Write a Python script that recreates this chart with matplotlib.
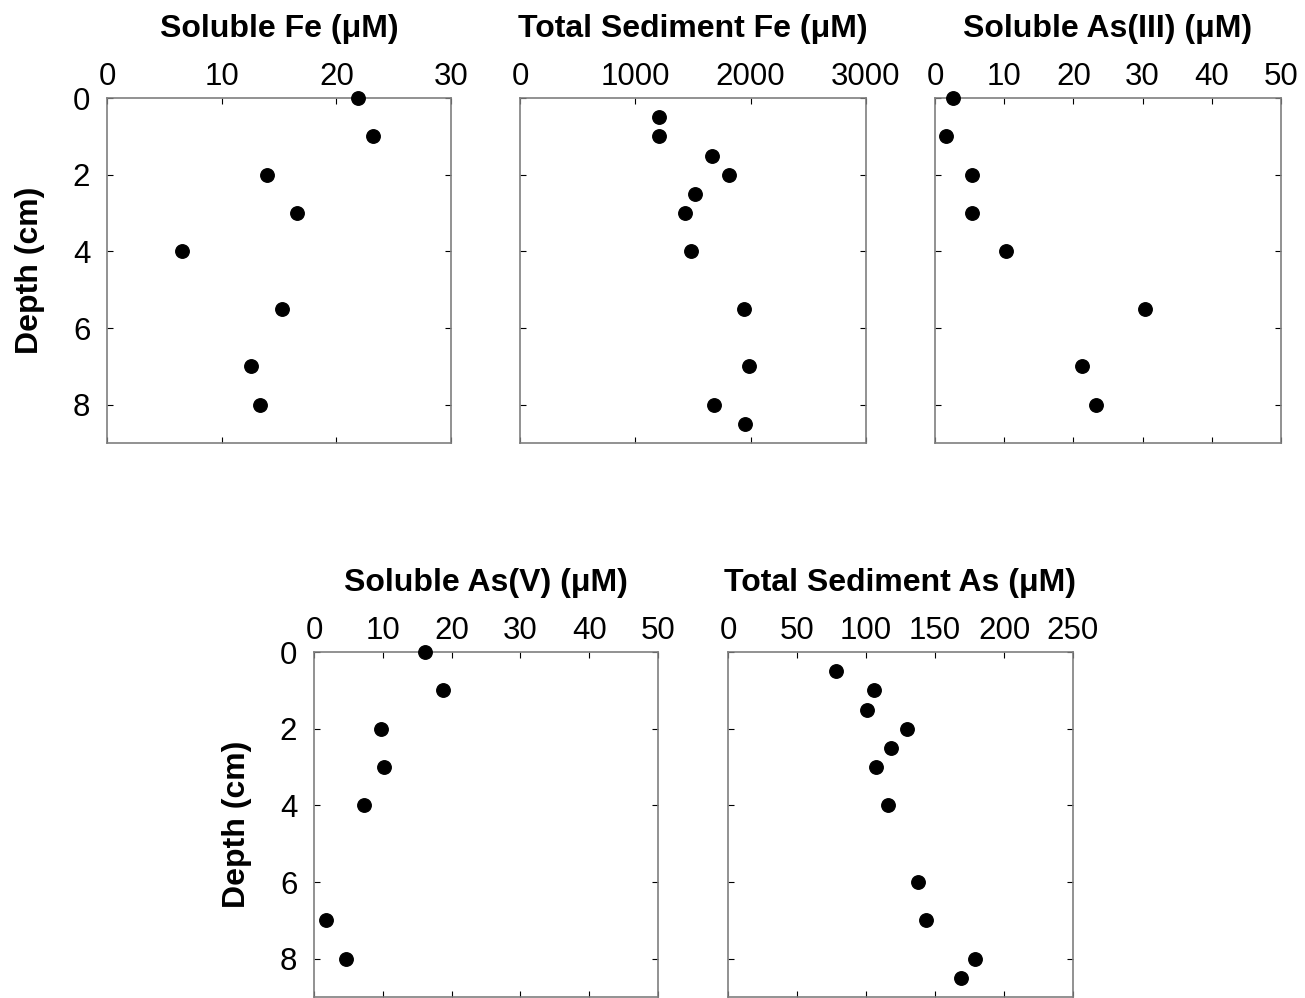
import matplotlib
matplotlib.use("Agg")
import matplotlib.pyplot as plt
import matplotlib.transforms as mtransforms

plt.rcParams['font.family'] = ['Liberation Sans', 'DejaVu Sans']

# ---- data ----
fe_sol_depth = [0, 1, 2, 3, 4, 5.5, 7, 8]
fe_sol = [21.9, 23.2, 13.95, 16.6, 6.5, 15.3, 12.6, 13.3]

fe_sed_depth = [0.5, 1, 1.5, 2, 2.5, 3, 4, 5.5, 7, 8, 8.5]
fe_sed = [1205, 1205, 1665, 1813, 1518, 1431, 1483, 1942, 1986, 1682, 1951]

as3_depth = [0, 1, 2, 3, 4, 5.5, 7, 8]
as3 = [2.6, 1.6, 5.35, 5.35, 10.3, 30.3, 21.2, 23.3]

as5_depth = [0, 1, 2, 3, 4, 7, 8]
as5 = [16.1, 18.75, 9.7, 10.2, 7.3, 1.7, 4.65]

as_sed_depth = [0.5, 1, 1.5, 2, 2.5, 3, 4, 6, 7, 8, 8.5]
as_sed = [78.3, 105.8, 100.7, 129.7, 118, 107.2, 116, 137.7, 143.5, 179, 168.8]

titles = ["Soluble Fe (\u03bcM)", "Total Sediment Fe (\u03bcM)", "Soluble As(III) (\u03bcM)",
          "Soluble As(V) (\u03bcM)", "Total Sediment As (\u03bcM)"]
xticks_list = [[0, 10, 20, 30], [0, 1000, 2000, 3000], [0, 10, 20, 30, 40, 50],
               [0, 10, 20, 30, 40, 50], [0, 50, 100, 150, 200, 250]]
yticks = [0, 2, 4, 6, 8]
ylabel = "Depth (cm)"

series = [(fe_sol, fe_sol_depth), (fe_sed, fe_sed_depth), (as3, as3_depth),
          (as5, as5_depth), (as_sed, as_sed_depth)]

W, H = 1305, 998
fig = plt.figure(figsize=(W / 100, H / 100), dpi=100)

# axes boxes in pixels: left, right, top, bottom
boxes = [(107, 451, 98, 443), (520, 866, 98, 443), (935, 1281, 98, 443),
         (314, 658, 652, 997), (728, 1073, 652, 997)]
show_ylab = [True, False, False, True, False]

for i, ((xv, dv), (l, r, t, b)) in enumerate(zip(series, boxes)):
    ax = fig.add_axes([l / W, 1 - b / H, (r - l) / W, (b - t) / H])
    ax.plot(xv, dv, 'o', color='black', ms=9.7, clip_on=False, zorder=5)
    ax.set_xlim(xticks_list[i][0], xticks_list[i][-1])
    ax.set_ylim(9, 0)
    ax.set_xticks(xticks_list[i])
    ax.set_yticks(yticks)
    ax.xaxis.tick_top()
    ax.tick_params(axis='x', which='both', direction='in', top=True, bottom=True,
                   labeltop=True, labelbottom=False, length=4.5, width=0.8,
                   pad=4, labelsize=22.5, color='black')
    ax.tick_params(axis='y', which='both', direction='in', left=True, right=True,
                   labelleft=show_ylab[i], length=4.5, width=0.8, pad=12,
                   labelsize=22.5, color='black')
    for sp in ax.spines.values():
        sp.set_color('#7f7f7f')
        sp.set_linewidth(1.2)
    if show_ylab[i]:
        ax.set_ylabel(ylabel, fontsize=23, fontweight='bold', labelpad=20)
    off = mtransforms.offset_copy(ax.transAxes, fig=fig, x=0, y=61, units='dots')
    ax.text(0.5, 1.0, titles[i], transform=off, ha='center', va='baseline',
            fontsize=23, fontweight='bold')

fig.savefig("out.png", dpi=100)
